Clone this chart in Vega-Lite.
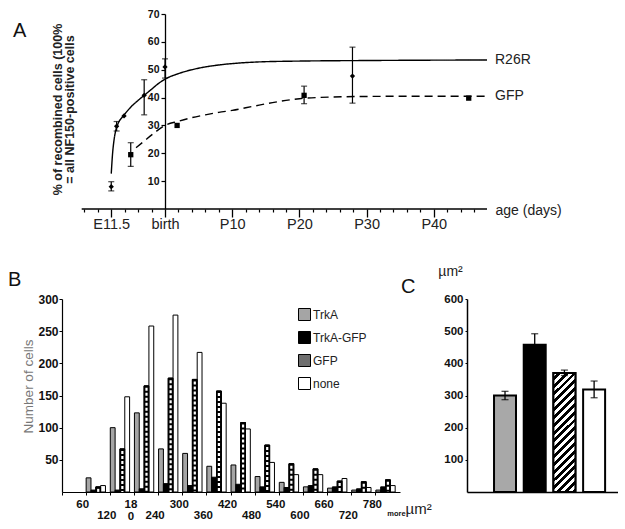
{
  "$schema": "https://vega.github.io/schema/vega-lite/v6.json",
  "padding": {"left": 8, "top": 9, "right": 0, "bottom": 0},
  "background": "white",
  "config": {"font": "Liberation Sans", "view": {"stroke": null}, "axis": {"grid": false, "labelOverlap": false}},
  "datasets": {
    "curves": [
      {"series": "R26R", "day": -8.0, "value": 12.7},
      {"series": "R26R", "day": -7.8, "value": 20},
      {"series": "R26R", "day": -7.6, "value": 24.5},
      {"series": "R26R", "day": -7.3, "value": 28.5},
      {"series": "R26R", "day": -7.0, "value": 30.6},
      {"series": "R26R", "day": -6.2, "value": 33.4},
      {"series": "R26R", "day": -5.0, "value": 36.8},
      {"series": "R26R", "day": -4.0, "value": 39},
      {"series": "R26R", "day": -3.1, "value": 40.8},
      {"series": "R26R", "day": -2.0, "value": 43},
      {"series": "R26R", "day": -1.0, "value": 45},
      {"series": "R26R", "day": 0, "value": 46.6},
      {"series": "R26R", "day": 2, "value": 48.6},
      {"series": "R26R", "day": 4, "value": 50},
      {"series": "R26R", "day": 6, "value": 51},
      {"series": "R26R", "day": 8, "value": 51.7},
      {"series": "R26R", "day": 10, "value": 52.2},
      {"series": "R26R", "day": 14, "value": 52.8},
      {"series": "R26R", "day": 20, "value": 53.1},
      {"series": "R26R", "day": 30, "value": 53.3},
      {"series": "R26R", "day": 47.92, "value": 53.5},
      {"series": "GFP", "day": -4.3, "value": 22},
      {"series": "GFP", "day": -3.0, "value": 24.6},
      {"series": "GFP", "day": -1.5, "value": 27.5},
      {"series": "GFP", "day": 0, "value": 30},
      {"series": "GFP", "day": 2, "value": 31.5},
      {"series": "GFP", "day": 4, "value": 32.8},
      {"series": "GFP", "day": 6, "value": 33.8},
      {"series": "GFP", "day": 8, "value": 34.7},
      {"series": "GFP", "day": 10, "value": 35.4},
      {"series": "GFP", "day": 13, "value": 36.8},
      {"series": "GFP", "day": 16, "value": 38.2},
      {"series": "GFP", "day": 20, "value": 39.6},
      {"series": "GFP", "day": 25, "value": 40.2},
      {"series": "GFP", "day": 30, "value": 40.4},
      {"series": "GFP", "day": 40, "value": 40.5},
      {"series": "GFP", "day": 47.92, "value": 40.5}
    ],
    "points": [
      {"series": "R26R", "day": -8, "value": 8, "lo": 6.5, "hi": 9.8},
      {"series": "R26R", "day": -7.2, "value": 29.7, "lo": 28, "hi": 31.4},
      {"series": "R26R", "day": -6.1, "value": 33.4, "lo": null, "hi": null},
      {"series": "R26R", "day": -3.1, "value": 40.8, "lo": 33.8, "hi": 46.4},
      {"series": "R26R", "day": 0, "value": 51, "lo": 47, "hi": 53.9},
      {"series": "R26R", "day": 27.9, "value": 47.7, "lo": 38, "hi": 58.1},
      {"series": "GFP", "day": -5.1, "value": 19.5, "lo": 15.3, "hi": 23.8},
      {"series": "GFP", "day": 1.8, "value": 30, "lo": null, "hi": null},
      {"series": "GFP", "day": 20.7, "value": 40.8, "lo": 37.8, "hi": 44.1},
      {"series": "GFP", "day": 45.2, "value": 39.8, "lo": null, "hi": null}
    ],
    "hist": [
      {"bin": "120", "series": "TrkA", "count": 22}, {"bin": "120", "series": "TrkA-GFP", "count": 3}, {"bin": "120", "series": "GFP", "count": 8}, {"bin": "120", "series": "none", "count": 10},
      {"bin": "180", "series": "TrkA", "count": 100}, {"bin": "180", "series": "TrkA-GFP", "count": 3}, {"bin": "180", "series": "GFP", "count": 67}, {"bin": "180", "series": "none", "count": 148},
      {"bin": "240", "series": "TrkA", "count": 123}, {"bin": "240", "series": "TrkA-GFP", "count": 5}, {"bin": "240", "series": "GFP", "count": 165}, {"bin": "240", "series": "none", "count": 258},
      {"bin": "300", "series": "TrkA", "count": 67}, {"bin": "300", "series": "TrkA-GFP", "count": 13}, {"bin": "300", "series": "GFP", "count": 177}, {"bin": "300", "series": "none", "count": 275},
      {"bin": "360", "series": "TrkA", "count": 60}, {"bin": "360", "series": "TrkA-GFP", "count": 10}, {"bin": "360", "series": "GFP", "count": 175}, {"bin": "360", "series": "none", "count": 217},
      {"bin": "420", "series": "TrkA", "count": 40}, {"bin": "420", "series": "TrkA-GFP", "count": 23}, {"bin": "420", "series": "GFP", "count": 157}, {"bin": "420", "series": "none", "count": 138},
      {"bin": "480", "series": "TrkA", "count": 42}, {"bin": "480", "series": "TrkA-GFP", "count": 12}, {"bin": "480", "series": "GFP", "count": 108}, {"bin": "480", "series": "none", "count": 98},
      {"bin": "540", "series": "TrkA", "count": 24}, {"bin": "540", "series": "TrkA-GFP", "count": 8}, {"bin": "540", "series": "GFP", "count": 73}, {"bin": "540", "series": "none", "count": 46},
      {"bin": "600", "series": "TrkA", "count": 15}, {"bin": "600", "series": "TrkA-GFP", "count": 7}, {"bin": "600", "series": "GFP", "count": 44}, {"bin": "600", "series": "none", "count": 27},
      {"bin": "660", "series": "TrkA", "count": 8}, {"bin": "660", "series": "TrkA-GFP", "count": 10}, {"bin": "660", "series": "GFP", "count": 36}, {"bin": "660", "series": "none", "count": 27},
      {"bin": "720", "series": "TrkA", "count": 6}, {"bin": "720", "series": "TrkA-GFP", "count": 8}, {"bin": "720", "series": "GFP", "count": 17}, {"bin": "720", "series": "none", "count": 21},
      {"bin": "780", "series": "TrkA", "count": 3}, {"bin": "780", "series": "TrkA-GFP", "count": 5}, {"bin": "780", "series": "GFP", "count": 16}, {"bin": "780", "series": "none", "count": 7},
      {"bin": "more", "series": "TrkA", "count": 3}, {"bin": "more", "series": "TrkA-GFP", "count": 8}, {"bin": "more", "series": "GFP", "count": 19}, {"bin": "more", "series": "none", "count": 10}
    ],
    "means": [
      {"series": "TrkA", "mean": 300, "lo": 287, "hi": 313},
      {"series": "TrkA-GFP", "mean": 458, "lo": 424, "hi": 492},
      {"series": "GFP", "mean": 370, "lo": 362, "hi": 379},
      {"series": "none", "mean": 319, "lo": 293, "hi": 345}
    ],
    "endlabels": [
      {"day": 47.92, "value": 53.5, "label": "R26R"},
      {"day": 47.92, "value": 40.5, "label": "GFP"}
    ],
    "baseline": [{"from": -12.4, "to": 47.92, "zero": 0}]
  },
  "spacing": 90,
  "bounds": "flush",
  "vconcat": [
    {
      "width": 425,
      "height": 195,
      "title": {"text": "A", "anchor": "start", "frame": "group", "offset": 0, "dx": -49, "dy": 48, "fontSize": 20, "fontWeight": "normal", "color": "#111", "baseline": "alphabetic"},
      "resolve": {"axis": {"x": "independent"}},
      "layer": [
        {
          "data": {"name": "baseline"},
          "mark": {"type": "rule", "color": "black", "strokeWidth": 1.3},
          "encoding": {
            "x": {"field": "from", "type": "quantitative", "scale": {"domain": [-15.33, 47.92], "nice": false, "zero": false},
              "axis": {"orient": "bottom", "tickCount": 1000, "values": [-12, -10, -6, -4, -2, 2, 4, 6, 8, 12, 14, 16, 18, 22, 24, 26, 28, 32, 34, 36, 38, 42, 44, 46], "labels": false, "domain": false, "tickSize": 3, "tickColor": "black", "tickWidth": 1.2, "title": null}},
            "x2": {"field": "to"},
            "y": {"field": "zero", "type": "quantitative", "scale": {"domain": [0, 70], "nice": false}}
          }
        },
        {
          "data": {"name": "curves"},
          "mark": {"type": "line", "color": "black", "strokeWidth": 1.4, "interpolate": "monotone"},
          "encoding": {
            "x": {"field": "day", "type": "quantitative",
              "axis": {"orient": "bottom", "tickCount": 1000, "values": [-8, 0, 10, 20, 30, 40], "labelExpr": "datum.value == -8 ? 'E11.5' : datum.value == 0 ? 'birth' : 'P' + datum.value", "domain": false, "tickSize": 8, "tickWidth": 1.3, "tickColor": "black", "labelFontSize": 14.5, "labelPadding": 0, "labelColor": "#222", "labelOverlap": false,
                "title": "age (days)", "titleX": 433, "titleY": 1, "titleAlign": "left", "titleBaseline": "middle", "titleFontSize": 14, "titleFontWeight": "normal", "titleColor": "#222"}},
            "y": {"field": "value", "type": "quantitative",
              "axis": {"values": [10, 20, 30, 40, 50, 60, 70], "tickCount": 1000, "format": "d", "offset": -103, "labelOverlap": false, "domainColor": "black", "domainWidth": 1.3, "tickColor": "black", "tickSize": 4, "tickWidth": 1.2, "labelFontSize": 10.5, "labelFontWeight": "bold", "labelColor": "#111", "labelPadding": 2,
                "title": ["% of recombined cells  (100%", "= all NF150-positive cells"], "titleX": -104, "titleY": 95, "titleAngle": -90, "titleAlign": "center", "titleBaseline": "alphabetic", "titleFontSize": 12.5, "titleFontWeight": "bold", "titleColor": "#222", "titleLineHeight": 12}},
            "detail": {"field": "series"},
            "strokeDash": {"field": "series", "type": "nominal", "scale": {"domain": ["R26R", "GFP"], "range": [[1, 0], [8, 5]]}, "legend": null}
          }
        },
        {
          "data": {"name": "points"},
          "transform": [{"filter": "datum.hi != null"}],
          "mark": {"type": "rule", "color": "black", "strokeWidth": 1.2},
          "encoding": {
            "x": {"field": "day", "type": "quantitative", "axis": null},
            "y": {"field": "lo", "type": "quantitative"},
            "y2": {"field": "hi"}
          }
        },
        {
          "data": {"name": "points"},
          "transform": [{"filter": "datum.hi != null"}, {"fold": ["lo", "hi"], "as": ["end", "v"]}],
          "mark": {"type": "tick", "orient": "horizontal", "size": 6, "thickness": 1.2, "color": "black"},
          "encoding": {
            "x": {"field": "day", "type": "quantitative", "axis": null},
            "y": {"field": "v", "type": "quantitative"}
          }
        },
        {
          "data": {"name": "points"},
          "mark": {"type": "point", "filled": true, "color": "black", "size": 28, "opacity": 1},
          "encoding": {
            "x": {"field": "day", "type": "quantitative", "axis": null},
            "y": {"field": "value", "type": "quantitative"},
            "shape": {"field": "series", "type": "nominal", "scale": {"domain": ["R26R", "GFP"], "range": ["diamond", "square"]}, "legend": null}
          }
        },
        {
          "data": {"name": "endlabels"},
          "mark": {"type": "text", "align": "left", "dx": 8, "fontSize": 14, "color": "#222"},
          "encoding": {
            "x": {"field": "day", "type": "quantitative", "axis": null},
            "y": {"field": "value", "type": "quantitative"},
            "text": {"field": "label"}
          }
        }
      ]
    },
    {
      "spacing": 67,
      "bounds": "flush",
      "resolve": {"scale": {"fill": "independent"}},
      "hconcat": [
        {
          "width": 338,
          "height": 193,
          "title": {"text": "B", "anchor": "start", "frame": "group", "offset": 0, "dx": -54, "dy": 13, "fontSize": 20, "fontWeight": "normal", "color": "#111", "baseline": "alphabetic"},
          "data": {"name": "hist"},
          "layer": [
            {
              "mark": {"type": "bar", "stroke": "black", "strokeWidth": 1},
              "encoding": {
                "x": {"field": "bin", "type": "nominal", "sort": null,
                  "scale": {"domain": ["60", "120", "180", "240", "300", "360", "420", "480", "540", "600", "660", "720", "780", "more"], "paddingInner": 0.2, "paddingOuter": 0.1, "align": 0},
                  "axis": {"bandPosition": 0, "labelOffset": 11, "tickSize": 3, "tickColor": "black", "domainColor": "black", "domainWidth": 1.2, "labelAngle": 0, "labelOverlap": false,
                    "labelFontSize": {"condition": {"test": "datum.value == 'more'", "value": 7.5}, "value": 11.5},
                    "labelFontWeight": "bold", "labelColor": "#111", "labelBaseline": "top",
                    "labelPadding": {"condition": {"test": "indexof(['120','240','360','480','600','720','more'], datum.value) >= 0", "value": 14}, "value": 3},
                    "labelExpr": "datum.value == '180' ? ['18','0'] : datum.value", "labelLineHeight": 12,
                    "title": "µm²", "titleX": 343, "titleY": 21, "titleAlign": "left", "titleBaseline": "alphabetic", "titleFontSize": 15, "titleFontWeight": "normal", "titleColor": "#222"}},
                "xOffset": {"field": "series", "type": "nominal", "scale": {"domain": ["TrkA", "TrkA-GFP", "GFP", "none"], "paddingInner": 0, "paddingOuter": 0}},
                "y": {"field": "count", "type": "quantitative", "scale": {"domain": [0, 300], "nice": false},
                  "axis": {"values": [50, 100, 150, 200, 250, 300], "tickCount": 1000, "format": "d", "labelOverlap": false, "tickSize": 3, "tickColor": "black", "domainColor": "black", "domainWidth": 1.2, "labelFontSize": 12, "labelFontWeight": "bold", "labelColor": "#111", "labelPadding": 1,
                    "title": "Number of cells", "titleX": -30, "titleY": 87, "titleAngle": -90, "titleAlign": "center", "titleBaseline": "alphabetic", "titleFontSize": 13.5, "titleFontWeight": "normal", "titleColor": "#777"}},
                "fill": {"field": "series", "type": "nominal",
                  "scale": {"domain": ["TrkA", "TrkA-GFP", "GFP", "none"], "range": ["#a5a5a5", "#000000", "#6e6e6e", "#ffffff"]},
                  "legend": {"orient": "none", "legendX": 236, "legendY": 9, "title": null, "padding": 0, "symbolType": "square", "symbolSize": 144, "symbolStrokeColor": "black", "symbolStrokeWidth": 1, "symbolOpacity": 1, "labelFontSize": 12, "labelColor": "#222", "rowPadding": 6, "labelOffset": 2,
                    "encode": {"symbols": {"update": {"stroke": {"value": "black"}, "strokeWidth": {"value": 1}}}}}}
              }
            },
            {
              "transform": [{"filter": "datum.series == 'GFP'"}],
              "mark": {"type": "bar", "fill": "black", "stroke": "black", "strokeWidth": 1},
              "encoding": {
                "x": {"field": "bin", "type": "nominal", "sort": null},
                "xOffset": {"field": "series", "type": "nominal"},
                "y": {"field": "count", "type": "quantitative"}
              }
            },
            {
              "transform": [{"filter": "datum.series == 'GFP' && datum.count > 4"}],
              "mark": {"type": "rule", "color": "white", "strokeWidth": 2.2, "strokeDash": [3, 2], "strokeDashOffset": 3},
              "encoding": {
                "x": {"field": "bin", "type": "nominal", "sort": null},
                "xOffset": {"field": "series", "type": "nominal"},
                "y": {"field": "count", "type": "quantitative"},
                "y2": {"datum": 0}
              }
            }
          ]
        },
        {
          "width": 151,
          "height": 193,
          "title": {"text": "C", "anchor": "start", "frame": "group", "offset": 0, "dx": -66, "dy": 49, "fontSize": 20, "fontWeight": "normal", "color": "#111", "baseline": "alphabetic"},
          "data": {"name": "means"},
          "layer": [
            {
              "mark": {"type": "bar", "stroke": "black", "strokeWidth": 2},
              "encoding": {
                "x": {"field": "series", "type": "nominal", "sort": null,
                  "scale": {"domain": ["TrkA", "TrkA-GFP", "GFP", "none"], "paddingInner": 0.26, "paddingOuter": 0.672, "align": 0.677},
                  "axis": {"labels": false, "ticks": false, "title": null, "domainColor": "black", "domainWidth": 1.5}},
                "y": {"field": "mean", "type": "quantitative", "scale": {"domain": [0, 600], "nice": false},
                  "axis": {"values": [100, 200, 300, 400, 500, 600], "tickCount": 1000, "format": "d", "labelOverlap": false, "tickSize": 2, "tickColor": "black", "domainColor": "black", "domainWidth": 1.5, "labelFontSize": 11.5, "labelFontWeight": "bold", "labelColor": "#111", "labelPadding": 2,
                    "title": "µm²", "titleAngle": 0, "titleX": -17, "titleY": -24, "titleAlign": "center", "titleBaseline": "alphabetic", "titleFontSize": 14, "titleFontWeight": "normal", "titleColor": "#222"}},
                "fill": {"field": "series", "type": "nominal",
                  "scale": {"domain": ["TrkA", "TrkA-GFP", "GFP", "none"], "range": ["#a8a8a8", "#000000", "#ffffff", "#ffffff"]},
                  "legend": null}
              }
            },
            {
              "transform": [{"filter": "datum.series == 'GFP'"}],
              "mark": {"type": "bar", "stroke": "black", "strokeWidth": 2,
                "fill": {"gradient": "linear", "x1": 0, "y1": 0, "x2": 0.2105, "y2": 1.145, "stops": [
                        {"offset": 0, "color": "#fff"}, {"offset": 0.0278, "color": "#fff"}, {"offset": 0.0278, "color": "#000"}, {"offset": 0.0556, "color": "#000"},
                        {"offset": 0.0556, "color": "#fff"}, {"offset": 0.0833, "color": "#fff"}, {"offset": 0.0833, "color": "#000"}, {"offset": 0.1111, "color": "#000"},
                        {"offset": 0.1111, "color": "#fff"}, {"offset": 0.1389, "color": "#fff"}, {"offset": 0.1389, "color": "#000"}, {"offset": 0.1667, "color": "#000"},
                        {"offset": 0.1667, "color": "#fff"}, {"offset": 0.1944, "color": "#fff"}, {"offset": 0.1944, "color": "#000"}, {"offset": 0.2222, "color": "#000"},
                        {"offset": 0.2222, "color": "#fff"}, {"offset": 0.25, "color": "#fff"}, {"offset": 0.25, "color": "#000"}, {"offset": 0.2778, "color": "#000"},
                        {"offset": 0.2778, "color": "#fff"}, {"offset": 0.3056, "color": "#fff"}, {"offset": 0.3056, "color": "#000"}, {"offset": 0.3333, "color": "#000"},
                        {"offset": 0.3333, "color": "#fff"}, {"offset": 0.3611, "color": "#fff"}, {"offset": 0.3611, "color": "#000"}, {"offset": 0.3889, "color": "#000"},
                        {"offset": 0.3889, "color": "#fff"}, {"offset": 0.4167, "color": "#fff"}, {"offset": 0.4167, "color": "#000"}, {"offset": 0.4444, "color": "#000"},
                        {"offset": 0.4444, "color": "#fff"}, {"offset": 0.4722, "color": "#fff"}, {"offset": 0.4722, "color": "#000"}, {"offset": 0.5, "color": "#000"},
                        {"offset": 0.5, "color": "#fff"}, {"offset": 0.5278, "color": "#fff"}, {"offset": 0.5278, "color": "#000"}, {"offset": 0.5556, "color": "#000"},
                        {"offset": 0.5556, "color": "#fff"}, {"offset": 0.5833, "color": "#fff"}, {"offset": 0.5833, "color": "#000"}, {"offset": 0.6111, "color": "#000"},
                        {"offset": 0.6111, "color": "#fff"}, {"offset": 0.6389, "color": "#fff"}, {"offset": 0.6389, "color": "#000"}, {"offset": 0.6667, "color": "#000"},
                        {"offset": 0.6667, "color": "#fff"}, {"offset": 0.6944, "color": "#fff"}, {"offset": 0.6944, "color": "#000"}, {"offset": 0.7222, "color": "#000"},
                        {"offset": 0.7222, "color": "#fff"}, {"offset": 0.75, "color": "#fff"}, {"offset": 0.75, "color": "#000"}, {"offset": 0.7778, "color": "#000"},
                        {"offset": 0.7778, "color": "#fff"}, {"offset": 0.8056, "color": "#fff"}, {"offset": 0.8056, "color": "#000"}, {"offset": 0.8333, "color": "#000"},
                        {"offset": 0.8333, "color": "#fff"}, {"offset": 0.8611, "color": "#fff"}, {"offset": 0.8611, "color": "#000"}, {"offset": 0.8889, "color": "#000"},
                        {"offset": 0.8889, "color": "#fff"}, {"offset": 0.9167, "color": "#fff"}, {"offset": 0.9167, "color": "#000"}, {"offset": 0.9444, "color": "#000"},
                        {"offset": 0.9444, "color": "#fff"}, {"offset": 0.9722, "color": "#fff"}, {"offset": 0.9722, "color": "#000"}, {"offset": 1, "color": "#000"}]}},
              "encoding": {
                "x": {"field": "series", "type": "nominal", "sort": null},
                "y": {"field": "mean", "type": "quantitative"}
              }
            },
            {
              "mark": {"type": "rule", "color": "black", "strokeWidth": 1.3},
              "encoding": {
                "x": {"field": "series", "type": "nominal", "sort": null},
                "y": {"field": "lo", "type": "quantitative"},
                "y2": {"field": "hi"}
              }
            },
            {
              "transform": [{"fold": ["lo", "hi"], "as": ["end", "v"]}],
              "mark": {"type": "tick", "orient": "horizontal", "size": 7, "thickness": 1.3, "color": "black"},
              "encoding": {
                "x": {"field": "series", "type": "nominal", "sort": null},
                "y": {"field": "v", "type": "quantitative"}
              }
            }
          ]
        }
      ]
    }
  ]
}
